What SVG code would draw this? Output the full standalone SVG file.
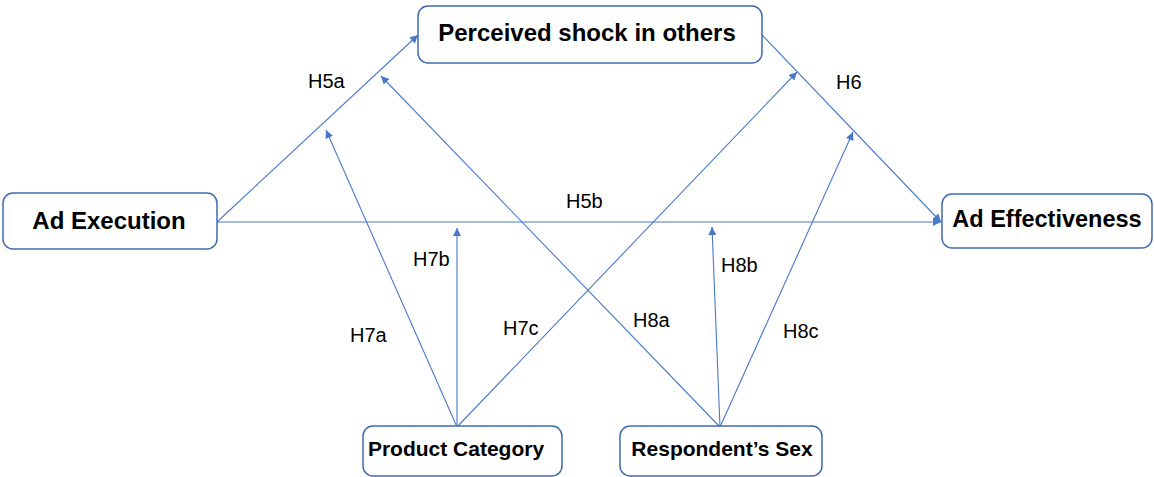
<svg xmlns="http://www.w3.org/2000/svg" width="1154" height="477" viewBox="0 0 1154 477">
<defs>
<style>
.box{fill:#fff;stroke:#4169AE;stroke-width:1.5}
.nt{font-family:"Liberation Sans",Arial,sans-serif;font-weight:bold;fill:#000;text-anchor:middle}
.lbl{font-family:"Liberation Sans",Arial,sans-serif;font-size:20px;fill:#000}
.c{stroke:#4A78C8;stroke-width:1.1;fill:none;marker-end:url(#ah)}
</style>
<marker id="ah" viewBox="0 0 10 10" refX="10" refY="5" markerWidth="10" markerHeight="8" markerUnits="userSpaceOnUse" orient="auto">
<path d="M0,0 L10,5 L0,10 z" fill="#4A78C8"/>
</marker>
</defs>
<rect width="1154" height="477" fill="#fff"/>
<g id="connectors">
<line class="c" x1="217" y1="222" x2="418" y2="35"/>
<line class="c" x1="217" y1="222" x2="941" y2="222"/>
<line class="c" x1="762" y1="35" x2="941" y2="222"/>
<line class="c" x1="457" y1="427" x2="326" y2="130"/>
<line class="c" x1="457" y1="427" x2="457" y2="228"/>
<line class="c" x1="457" y1="427" x2="797" y2="72"/>
<line class="c" x1="720" y1="427" x2="381" y2="76"/>
<line class="c" x1="720" y1="427" x2="712" y2="227"/>
<line class="c" x1="720" y1="427" x2="853" y2="132"/>
</g>
<g id="labels">
<text class="lbl" x="308" y="88">H5a</text>
<text class="lbl" x="836" y="89">H6</text>
<text class="lbl" x="566" y="208">H5b</text>
<text class="lbl" x="413" y="266">H7b</text>
<text class="lbl" x="721" y="272">H8b</text>
<text class="lbl" x="350" y="342">H7a</text>
<text class="lbl" x="503" y="335">H7c</text>
<text class="lbl" x="633" y="327">H8a</text>
<text class="lbl" x="783" y="338">H8c</text>
</g>
<g id="perceived-shock">
<rect class="box" x="418" y="6" width="344" height="57" rx="10"/>
<text class="nt" x="587" y="41" font-size="24">Perceived shock in others</text>
</g>
<g id="ad-execution">
<rect class="box" x="3" y="193" width="214" height="56" rx="10"/>
<text class="nt" x="109" y="229" font-size="24">Ad Execution</text>
</g>
<g id="ad-effectiveness">
<rect class="box" x="942" y="194" width="210" height="54" rx="10"/>
<text class="nt" x="1047" y="227" font-size="23.5">Ad Effectiveness</text>
</g>
<g id="product-category">
<rect class="box" x="363" y="426" width="199" height="50" rx="10"/>
<text class="nt" x="456" y="456" font-size="21">Product Category</text>
</g>
<g id="respondents-sex">
<rect class="box" x="620" y="426" width="202" height="50" rx="10"/>
<text class="nt" x="722" y="456" font-size="21">Respondent’s Sex</text>
</g>
</svg>
